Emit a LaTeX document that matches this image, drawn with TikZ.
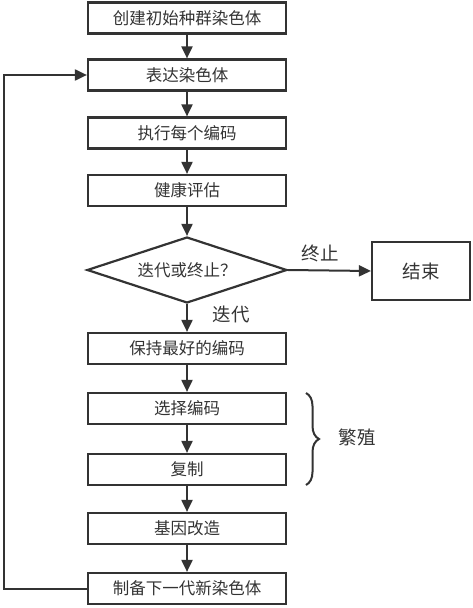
\documentclass[tikz,border=0pt]{standalone}
\usepackage{fontspec}
\setmainfont{Noto Sans CJK SC}
\usetikzlibrary{shapes.geometric,arrows.meta,decorations.pathreplacing}
\definecolor{ln}{HTML}{333333}
\begin{document}
\begin{tikzpicture}[x=1pt,y=-1pt,
  procbox/.style={draw=ln,line width=2.2pt,minimum width=198pt,minimum height=31pt,inner sep=0pt,text=ln,font=\fontsize{16.5}{18}\selectfont},
  decis/.style={diamond,draw=ln,line width=2.2pt,minimum width=200pt,minimum height=66pt,aspect=3,inner sep=0pt,text=ln,font=\fontsize{16.5}{18}\selectfont},
  lbl/.style={text=ln,font=\fontsize{18.5}{20}\selectfont,inner sep=0pt},
  flow/.style={draw=ln,line width=2pt,-{Triangle[length=12pt,width=11pt]}}]
\useasboundingbox (0,0) rectangle (472,608);
\node[procbox] (b1) at (187,18) {创建初始种群染色体};
\node[procbox] (b2) at (187,75) {表达染色体};
\node[procbox] (b3) at (187,133) {执行每个编码};
\node[procbox] (b4) at (187,190.5) {健康评估};
\node[decis] (d) at (187,270) {迭代或终止？};
\node[procbox,minimum width=98pt,minimum height=58pt,font=\fontsize{18.5}{20}\selectfont] (end) at (421,271) {结束};
\node[procbox] (b5) at (187,348.5) {保持最好的编码};
\node[procbox] (b6) at (187,408.5) {选择编码};
\node[procbox] (b7) at (187,469.5) {复制};
\node[procbox] (b8) at (187,528.5) {基因改造};
\node[procbox] (b9) at (187,588.5) {制备下一代新染色体};
\node[lbl] (lt) at (320,253) {终止};
\node[lbl] (li) at (231,314) {迭代};
\node[lbl] (lf) at (357,437) {繁殖};
\coordinate (c1) at (4,588.5);
\coordinate (c2) at (4,75);
\coordinate (bt) at (306,393);
\coordinate (bb) at (306,485);
\draw[flow] (b1) -- (b2);
\draw[flow] (b2) -- (b3);
\draw[flow] (b3) -- (b4);
\draw[flow] (b4) -- (d);
\draw[flow] (d.east) -- (end.west);
\draw[flow] (d.south) -- (b5);
\draw[flow] (b5) -- (b6);
\draw[flow] (b6) -- (b7);
\draw[flow] (b7) -- (b8);
\draw[flow] (b8) -- (b9);
\draw[flow] (b9.west) -- (c1) -- (c2) -- (b2.west);
\draw[draw=ln,line width=2pt,decorate,decoration={brace,amplitude=13pt}] (bt) -- (bb);
\end{tikzpicture}
\end{document}
